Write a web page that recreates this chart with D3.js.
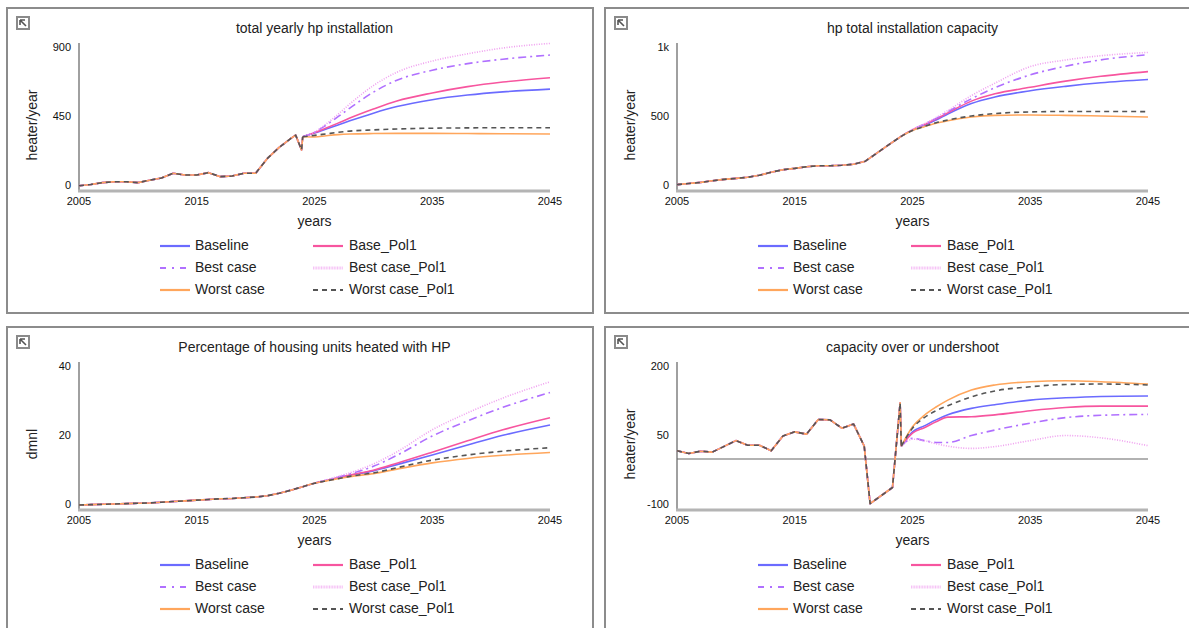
<!DOCTYPE html>
<html>
<head>
<meta charset="utf-8">
<script src="https://cdn.jsdelivr.net/npm/d3@7"></script>
<style>
body { margin: 0; background: #fff; }
svg { display: block; font-family: "Liberation Sans", Arial, sans-serif; }
</style>
</head>
<body>
<svg id="paper" width="1189" height="628"></svg>
<script>
// scenario names, in draw order (last one ends up on top)
const scenarios = ["Baseline", "Base_Pol1", "Best case", "Best case_Pol1", "Worst case", "Worst case_Pol1"];
const colors = ["#6b6bff", "#f7559f", "#b070ff", "#f0a0f0", "#ffa65c", "#555555"];
const dashes = [null, null, "8,4,2,4", "1,1.5", null, "5,4"];

// years the projections were read at (history runs up to 2024)
const projYears = [2025, 2026, 2027, 2028, 2030, 2032, 2035, 2038, 2041, 2045];

// --- total yearly hp installation (heater/year)
const instHist = [[2005,2],[2006,10],[2007,22],[2008,28],[2009,28],[2010,22],[2011,38],[2012,52],[2013,83],
  [2014,72],[2015,72],[2016,87],[2017,61],[2018,65],[2019,83],[2020,83],[2021,180],[2022,252],[2023,310],
  [2023.4,332],[2023.9,235],[2024,321]];
const instProj = [
  [345, 372, 398, 425, 475, 518, 563, 593, 614, 632],   // Baseline
  [347, 378, 410, 443, 502, 555, 607, 648, 678, 706],   // Base_Pol1
  [350, 398, 452, 508, 612, 690, 755, 798, 827, 854],   // Best case
  [352, 405, 468, 535, 655, 742, 815, 862, 900, 930],   // Best case_Pol1
  [320, 328, 335, 339, 342, 343, 343, 342, 341, 339],   // Worst case
  [330, 340, 350, 358, 366, 372, 377, 379, 380, 380]    // Worst case_Pol1
];

// --- hp total installation capacity
const capHist = [[2005,10],[2006,18],[2007,26],[2008,38],[2009,48],[2010,55],[2011,63],[2012,78],[2013,100],
  [2014,118],[2015,128],[2016,140],[2017,147],[2018,147],[2019,150],[2020,158],[2021,180],[2022,240],
  [2023,300],[2024,358]];
const capProj = [
  [405, 440, 478, 522, 598, 645, 690, 722, 748, 772],
  [407, 445, 485, 530, 615, 668, 715, 760, 795, 829],
  [408, 447, 490, 538, 632, 712, 805, 868, 914, 951],
  [410, 450, 496, 547, 655, 745, 865, 913, 944, 968],
  [402, 430, 455, 473, 500, 512, 515, 512, 507, 500],
  [402, 432, 458, 478, 507, 525, 537, 540, 540, 539]
];

// --- Percentage of housing units heated with HP (dmnl)
const pctHist = [[2005,0],[2006,0.1],[2007,0.2],[2008,0.3],[2009,0.4],[2010,0.5],[2011,0.6],[2012,0.8],
  [2013,1.0],[2014,1.2],[2015,1.4],[2016,1.6],[2017,1.8],[2018,1.9],[2019,2.1],[2020,2.3],[2021,2.7],
  [2022,3.4],[2023,4.3],[2024,5.3]];
const pctProj = [
  [6.3, 7.1, 7.9, 8.6, 9.9, 11.7, 14.5, 17.4, 20.2, 23.2],
  [6.3, 7.1, 7.9, 8.7, 10.1, 12.1, 15.3, 18.6, 21.8, 25.3],
  [6.3, 7.2, 8.1, 9.0, 11.2, 14.4, 20.0, 24.4, 28.3, 32.6],
  [6.3, 7.3, 8.3, 9.3, 11.9, 15.4, 21.8, 26.7, 31.0, 35.7],
  [6.3, 7.0, 7.6, 8.2, 9.1, 10.4, 12.2, 13.5, 14.4, 15.2],
  [6.3, 7.0, 7.6, 8.3, 9.3, 10.8, 13.0, 14.5, 15.6, 16.6]
];

// --- capacity over or undershoot (heater/year)
const gapHist = [[2005,18],[2006,12],[2007,17],[2008,15],[2010,40],[2011,30],[2012,30],[2013,18],[2014,50],
  [2015,59],[2016,54],[2017,86],[2018,85],[2019,67],[2020,76],[2020.9,28],[2021.4,-97],[2023.3,-62],
  [2023.95,122],[2024.05,28]];
const gapProj = [
  [59, 72, 85, 96, 110, 118, 128, 133, 136, 137],
  [56, 68, 81, 91, 92, 96, 105, 112, 115, 115],
  [45, 40, 36, 36, 51, 63, 78, 90, 95, 97],
  [43, 40, 33, 28, 23, 27, 40, 51, 46, 29],
  [70, 95, 113, 128, 150, 161, 168, 170, 168, 163],
  [67, 90, 105, 116, 135, 148, 157, 162, 163, 161]
];

const panels = [
  {x: 7, y: 8, title: "total yearly hp installation", unit: "heater/year", hist: instHist, proj: instProj,
   ticks: [0, 450, 900], dom: [0, 900]},
  {x: 605, y: 8, title: "hp total installation capacity", unit: "heater/year", hist: capHist, proj: capProj,
   ticks: [0, 500, 1000], dom: [0, 1000]},
  {x: 7, y: 327, title: "Percentage of housing units heated with HP", unit: "dmnl", hist: pctHist, proj: pctProj,
   ticks: [0, 20, 40], dom: [0, 40]},
  {x: 605, y: 327, title: "capacity over or undershoot", unit: "heater/year", hist: gapHist, proj: gapProj,
   ticks: [-100, 50, 200], dom: [-100, 200], zero: true}
];

const svg = d3.select("#paper");
const W = 586, H = 305;
const plotL = 72, plotR = 543, plotT = 40, plotB = 178;

const x = d3.scaleLinear().domain([2005, 2045]).range([plotL, plotR]);
const tickFmt = v => v >= 1000 ? (v / 1000) + "k" : v;

panels.forEach(p => {
  const g = svg.append("g").attr("transform", `translate(${p.x},${p.y})`);

  g.append("rect").attr("width", W).attr("height", H)
    .attr("fill", "#fff").attr("stroke", "#8c8c8c").attr("stroke-width", 2);

  // little corner icon
  g.append("rect").attr("x", 10).attr("y", 9).attr("width", 12).attr("height", 12)
    .attr("fill", "#fff").attr("stroke", "#8a8a8a").attr("stroke-width", 2);
  g.append("path").attr("d", "M13,12 L18,12 M13,12 L13,17 M13,12 L19,18")
    .attr("stroke", "#555").attr("stroke-width", 1.6).attr("fill", "none");

  const y = d3.scaleLinear().domain(p.dom).range([plotB, plotT]);

  g.append("text").attr("x", (plotL + plotR) / 2).attr("y", 21)
    .attr("text-anchor", "middle").attr("dominant-baseline", "middle")
    .attr("font-size", 14).attr("fill", "#222").text(p.title);

  // axes: plain grey lines, no tick marks
  g.append("line").attr("x1", plotL).attr("x2", plotL).attr("y1", 35).attr("y2", 184)
    .attr("stroke", "#a0a0a0").attr("stroke-width", 2);
  g.append("line").attr("x1", plotL - 1).attr("x2", plotR).attr("y1", 183).attr("y2", 183)
    .attr("stroke", "#b4b4b4").attr("stroke-width", 3);

  if (p.zero)
    g.append("line").attr("x1", plotL).attr("x2", plotR).attr("y1", y(0)).attr("y2", y(0))
      .attr("stroke", "#666").attr("stroke-width", 1.2);

  g.selectAll(".yt").data(p.ticks).join("text")
    .attr("x", 64).attr("y", d => y(d)).attr("text-anchor", "end")
    .attr("dominant-baseline", "middle").attr("font-size", 11).attr("fill", "#111")
    .text(tickFmt);

  g.selectAll(".xt").data([2005, 2015, 2025, 2035, 2045]).join("text")
    .attr("x", d => x(d)).attr("y", 194).attr("text-anchor", "middle")
    .attr("dominant-baseline", "middle").attr("font-size", 11).attr("fill", "#111")
    .text(d => d);

  g.append("text").attr("x", (plotL + plotR) / 2).attr("y", 214)
    .attr("text-anchor", "middle").attr("dominant-baseline", "middle")
    .attr("font-size", 14).attr("fill", "#222").text("years");

  g.append("text").attr("transform", `translate(26,117) rotate(-90)`)
    .attr("text-anchor", "middle").attr("dominant-baseline", "middle")
    .attr("font-size", 14).attr("fill", "#222").text(p.unit);

  // history is piecewise linear, projections are smooth
  const histLine = d3.line().x(d => x(d[0])).y(d => y(d[1]));
  const projLine = d3.line().x(d => x(d[0])).y(d => y(d[1])).curve(d3.curveMonotoneX);
  const last = p.hist[p.hist.length - 1];

  scenarios.forEach((s, i) => {
    const proj = [last].concat(projYears.map((yr, j) => [yr, p.proj[i][j]]));
    [[p.hist, histLine], [proj, projLine]].forEach(([pts, fn]) =>
      g.append("path").datum(pts).attr("d", fn)
        .attr("fill", "none").attr("stroke", colors[i]).attr("stroke-width", 1.6)
        .attr("stroke-linejoin", "round")
        .attr("stroke-dasharray", dashes[i]));
  });

  // legend, two columns
  const leg = g.selectAll(".leg").data(scenarios).join("g")
    .attr("transform", (d, i) => `translate(${i % 2 ? 306 : 153},${238 + Math.floor(i / 2) * 22})`);
  leg.append("line").attr("x1", 0).attr("x2", 30)
    .attr("stroke", (d, i) => i == 3 ? "#f6c2f6" : colors[i])
    .attr("stroke-width", (d, i) => i == 3 ? 3 : 2.2)
    .attr("stroke-dasharray", (d, i) => i == 2 ? "6,6,2,6" : i == 3 ? "1,0.6" : dashes[i]);
  leg.append("text").attr("x", (d, i) => i % 2 ? 36 : 35).attr("dominant-baseline", "middle")
    .attr("font-size", 14).attr("fill", "#222").text(d => d);
});
</script>
</body>
</html>
